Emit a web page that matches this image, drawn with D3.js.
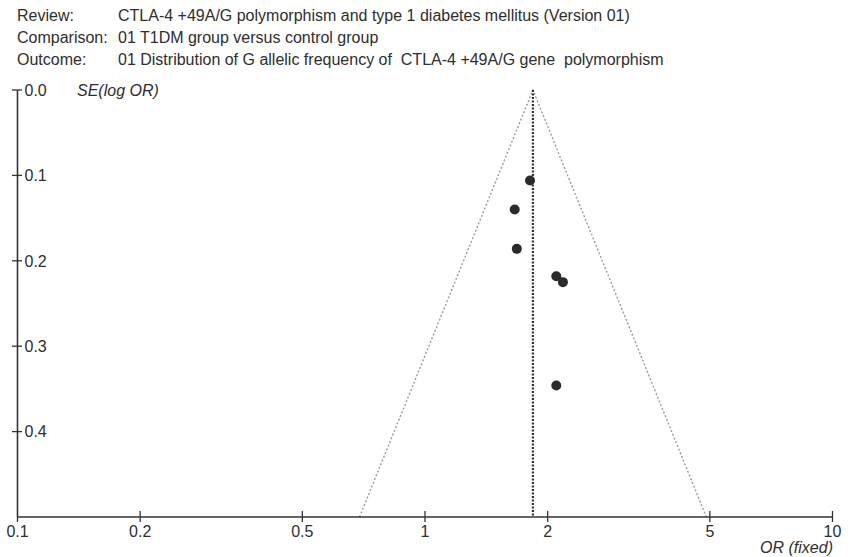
<!DOCTYPE html>
<html>
<head>
<meta charset="utf-8">
<script src="https://cdn.jsdelivr.net/npm/d3@7"></script>
<style>
  html, body { margin: 0; padding: 0; background: #fff; }
  svg text { font-family: "Liberation Sans", Arial, sans-serif; fill: #2e2e2e; }
</style>
</head>
<body>
<svg id="chart" width="851" height="557"></svg>
<script>
// Header lines (label, text)
const headerLabels = ["Review:", "Comparison:", "Outcome:"];
const headerTexts = [
  "CTLA-4 +49A/G polymorphism and type 1 diabetes mellitus (Version 01)",
  "01 T1DM group versus control group",
  "01 Distribution of G allelic frequency of  CTLA-4 +49A/G gene  polymorphism"
];

// Study estimates: odds ratio and standard error of log OR
const studyOR = [1.81, 1.66, 1.68, 2.10, 2.18, 2.10];
const studySE = [0.106, 0.140, 0.186, 0.218, 0.225, 0.346];

// Pooled fixed-effect odds ratio
const pooledOR = 1.84;

// Axis ticks
const xTicks = [0.1, 0.2, 0.5, 1, 2, 5, 10];
const yTicks = [0.0, 0.1, 0.2, 0.3, 0.4];

const svg = d3.select("#chart");

const x = d3.scaleLog().domain([0.1, 10]).range([17.5, 832.5]);
const y = d3.scaleLinear().domain([0, 0.5]).range([90, 517]);

// Header block
const hdr = svg.append("g");
headerLabels.forEach((lab, i) => {
  hdr.append("text").attr("x", 17).attr("y", 20.5 + i * 22.3)
    .attr("font-size", 16).text(lab);
  hdr.append("text").attr("x", 118).attr("y", 20.5 + i * 22.3)
    .attr("font-size", 16).style("white-space", "pre").text(headerTexts[i]);
});

// Funnel (95% pseudo confidence limits)
const z = 1.96;
const seMax = 0.5;
const funnel = [
  [pooledOR * Math.exp(-z * seMax), seMax],
  [pooledOR, 0],
  [pooledOR * Math.exp(z * seMax), seMax]
];
svg.append("path")
  .attr("d", d3.line().x(d => x(d[0])).y(d => y(d[1]))(funnel))
  .attr("fill", "none").attr("stroke", "#9a9a9a")
  .attr("stroke-width", 1.4).attr("stroke-dasharray", "2,2");

// Pooled estimate line
svg.append("line")
  .attr("x1", x(pooledOR)).attr("x2", x(pooledOR))
  .attr("y1", y(0)).attr("y2", y(0.5))
  .attr("stroke", "#333").attr("stroke-width", 2.2)
  .attr("stroke-dasharray", "2,1.5");

// Study points
svg.append("g").selectAll("circle")
  .data(studyOR.map((o, i) => ({ or: o, se: studySE[i] })))
  .join("circle")
  .attr("cx", d => x(d.or)).attr("cy", d => y(d.se))
  .attr("r", 5).attr("fill", "#2b2b2b");

// Y axis
const yAxis = svg.append("g");
yAxis.append("line").attr("x1", 17.5).attr("x2", 17.5)
  .attr("y1", y(0)).attr("y2", y(0.5))
  .attr("stroke", "#333").attr("stroke-width", 1.6);
yAxis.selectAll("line.tick").data(yTicks).join("line").attr("class", "tick")
  .attr("x1", 12).attr("x2", 22)
  .attr("y1", d => y(d)).attr("y2", d => y(d))
  .attr("stroke", "#333").attr("stroke-width", 1.3);
yAxis.selectAll("text.tick").data(yTicks).join("text").attr("class", "tick")
  .attr("x", 24.5).attr("y", d => y(d) + 5.7)
  .attr("font-size", 16).text(d => d.toFixed(1));
yAxis.append("text").attr("x", 77).attr("y", y(0) + 5.7)
  .attr("font-size", 16).attr("font-style", "italic").text("SE(log OR)");

// X axis
const xAxis = svg.append("g");
xAxis.append("line").attr("x1", x(0.1)).attr("x2", x(10))
  .attr("y1", y(0.5)).attr("y2", y(0.5))
  .attr("stroke", "#333").attr("stroke-width", 1.6);
xAxis.selectAll("line.tick").data(xTicks).join("line").attr("class", "tick")
  .attr("x1", d => x(d)).attr("x2", d => x(d))
  .attr("y1", d => d === 0.1 ? y(0.5) : y(0.5) - 6).attr("y2", y(0.5) + 5)
  .attr("stroke", "#333").attr("stroke-width", 1.3);
xAxis.selectAll("text.tick").data(xTicks).join("text").attr("class", "tick")
  .attr("x", d => x(d)).attr("y", 537)
  .attr("text-anchor", "middle").attr("font-size", 16)
  .text(d => String(d));
xAxis.append("text").attr("x", 833).attr("y", 553)
  .attr("text-anchor", "end").attr("font-size", 16)
  .attr("font-style", "italic").text("OR (fixed)");
</script>
</body>
</html>
